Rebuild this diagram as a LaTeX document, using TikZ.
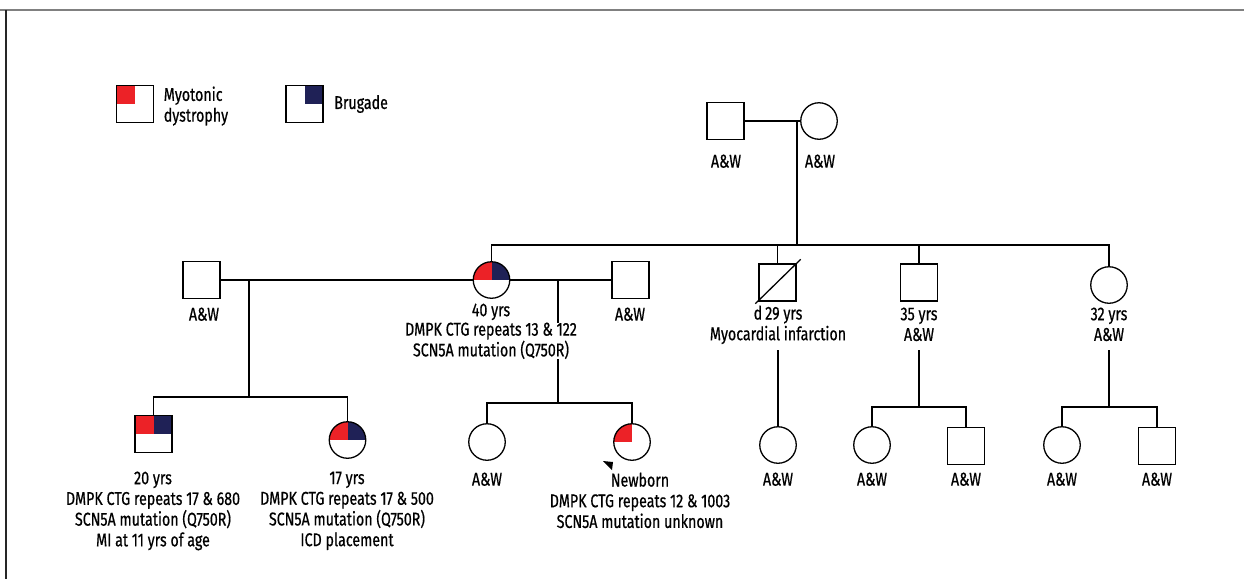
\documentclass[tikz,border=0pt]{standalone}
\usepackage{fontspec}
\setmainfont{Fira Sans}[FakeStretch=0.77, FakeBold=0.6]
\usetikzlibrary{positioning}
\definecolor{mdred}{RGB}{236,34,39}
\definecolor{brblue}{RGB}{31,33,86}

\begin{document}
\begin{tikzpicture}[x=1pt, y=-1pt, line width=1.3pt, every node/.style={font=\fontsize{18.5}{20.7}\selectfont},
    male/.style={rectangle, draw, minimum size=37pt, inner sep=0pt}, female/.style={circle, draw, minimum size=36.5pt, inner sep=0pt},
    aff/.style 2 args={path picture={\fill[#1] (path picture bounding box.north west) rectangle (path picture bounding box.center);
      \fill[#2] (path picture bounding box.center) rectangle (path picture bounding box.north east);}},
    info/.style={align=center, inner sep=0pt, anchor=north}]
    \tikzstyle{legendtext} = [align=left, inner sep=0pt, anchor=north west]

    \useasboundingbox (0,0) rectangle (1244,579);
    \draw[black!50, line width=1.6pt] (0,10) -- (1244,10);
    \draw[black!85] (6,10) -- (6,579);

    % legend
    \node[male, aff={mdred}{white}] (keymd) at (135,104) {};
    \node[legendtext, right=9pt of keymd.north east, anchor=north west, yshift=-1pt] (keymdtxt) {Myotonic\\dystrophy};
    \node[male, aff={white}{brblue}] (keybr) at (304.5,104) {};
    \node[legendtext, right=10pt of keybr.east, anchor=west] (keybrtxt) {Brugade};

    % generation I
    \node[male] (gf) at (725.5,121) {};
    \node[female] (gm) at (819,121) {};
    \node[info] at (726,154) {A\&W};
    \node[info] at (820,154) {A\&W};

    % generation II
    \node[male] (h1) at (201.5,280) {};
    \node[female, aff={mdred}{brblue}] (w40) at (491.5,280) {};
    \node[male] (h2) at (630.5,280) {};
    \node[male] (dm) at (777.5,282.5) {};
    \node[male] (s35) at (919,282.5) {};
    \node[female] (d32) at (1109,285) {};
    \draw ([shift={(-3,2)}]dm.south west) -- ([shift={(4,-4)}]dm.north east);

    % generation III
    \node[male, aff={mdred}{brblue}] (son) at (153.5,434) {};
    \node[female, aff={mdred}{brblue}] (dau) at (347.5,440) {};
    \node[female] (g1) at (487,442) {};
    \node[female, aff={mdred}{white}] (nb) at (632,442) {};
    \node[female] (c29) at (778,445) {};
    \node[female] (c35a) at (872,445) {};
    \node[male] (c35b) at (966,446) {};
    \node[female] (c32a) at (1062,445) {};
    \node[male] (c32b) at (1157,446) {};

    \coordinate (m1) at (797,121);
    \coordinate (k1) at (797,245);
    \coordinate (m2) at (249,280);
    \coordinate (k2) at (249,397);
    \coordinate (m3) at (558,280);
    \coordinate (k3) at (558,403);
    \coordinate (d1) at (778,350);
    \coordinate (d2) at (919,350);
    \coordinate (k4) at (919,407);
    \coordinate (d3) at (1109,350);
    \coordinate (k5) at (1109,407);

    \draw (gf) -- (gm);
    \draw (m1) -- (k1);
    \draw (w40.north) |- (k1) -| (d32.north);
    \draw (dm.north) -- (dm.north |- k1);
    \draw (s35.north) -- (s35.north |- k1);
    \draw (h1) -- (w40);
    \draw (w40) -- (h2);
    \draw (m2) -- (k2);
    \draw (son.north) |- (k2) -| (dau.north);
    \draw (m3) -- (k3);
    \draw (g1.north) |- (k3) -| (nb.north);
    \draw (d1) -- (c29);
    \draw (d2) -- (k4);
    \draw (c35a.north) |- (k4) -| (c35b.north);
    \draw (d3) -- (k5);
    \draw (c32a.north) |- (k5) -| (c32b.north);

    \node[info] at (204,307) {A\&W};
    \node[info] at (491,303) {40 yrs};
    \node[info, fill=white] (w40txt) at (491,322) {DMPK CTG repeats 13 \& 122\\SCN5A mutation (Q750R)};
    \node[info] at (630,307) {A\&W};
    \node[info] at (778,305) {d\,29 yrs\\Myocardial infarction};
    \node[info] at (919,307) {35 yrs\\A\&W};
    \node[info] at (1109,307) {32 yrs\\A\&W};

    \node[info] at (153,471) {20 yrs\\DMPK CTG repeats 17 \& 680\\SCN5A mutation (Q750R)\\MI at 11 yrs of age};
    \node[info] at (347,471) {17 yrs\\DMPK CTG repeats 17 \& 500\\SCN5A mutation (Q750R)\\ICD placement};
    \node[info] at (487,472) {A\&W};
    \node[info] at (640,472) {Newborn\\DMPK CTG repeats 12 \& 1003\\SCN5A mutation unknown};
    \fill (603,461) -- (613,462) -- (612,470) -- cycle;
    \node[info] at (778,472) {A\&W};
    \node[info] at (872,472) {A\&W};
    \node[info] at (966,472) {A\&W};
    \node[info] at (1062,472) {A\&W};
    \node[info] at (1157,472) {A\&W};
\end{tikzpicture}
\end{document}
